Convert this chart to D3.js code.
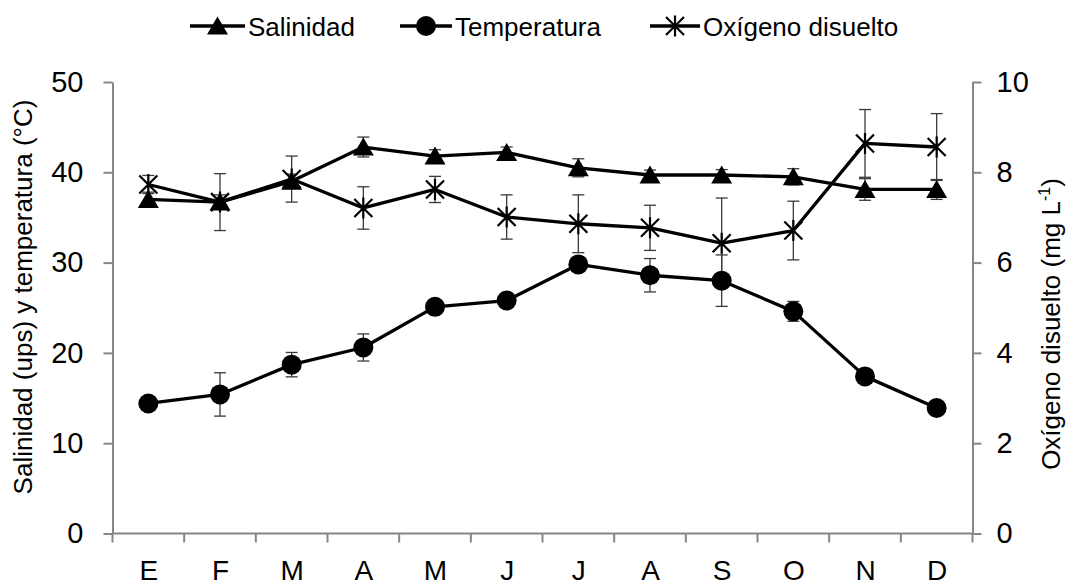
<!DOCTYPE html>
<html><head><meta charset="utf-8">
<script src="https://cdn.jsdelivr.net/npm/d3@7"></script>
<style>
html,body{margin:0;padding:0;background:#fff;}
text{font-family:"Liberation Sans",Arial,sans-serif;fill:#000;}
</style></head>
<body>
<svg id="chart" width="1078" height="586"></svg>
<script>
const months = ["E","F","M","A","M","J","J","A","S","O","N","D"];
const salinidad = [37.0, 36.7, 39.0, 42.8, 41.8, 42.2, 40.5, 39.7, 39.7, 39.5, 38.1, 38.1];
const salinidadErr = [0.8, 0.8, 0.8, 1.1, 0.7, 0.6, 1.0, 0.55, 0.6, 0.9, 1.2, 1.1];
const temperatura = [14.4, 15.4, 18.7, 20.6, 25.1, 25.8, 29.8, 28.6, 28.0, 24.6, 17.4, 13.9];
const temperaturaErr = [0.5, 2.4, 1.35, 1.5, 0.8, 0.8, 0.8, 1.85, 2.85, 1.1, 0.5, 0.5];
const oxigeno = [7.73, 7.34, 7.85, 7.21, 7.62, 7.01, 6.86, 6.77, 6.43, 6.71, 8.64, 8.56];
const oxigenoErr = [0.2, 0.63, 0.51, 0.47, 0.29, 0.49, 0.64, 0.50, 1.0, 0.65, 0.75, 0.74];
const leftTicks = [0, 10, 20, 30, 40, 50];
const rightTicks = [0, 2, 4, 6, 8, 10];
const legendLabels = ["Salinidad", "Temperatura", "Oxígeno disuelto"];

const svg = d3.select("#chart");
const L = 112.5, R = 972.5, T = 82, B = 533.5;
const idx = d3.range(months.length);
const xBand = d3.scaleBand().domain(idx).range([L, R]).paddingInner(0).paddingOuter(0);
const xc = i => xBand(i) + xBand.bandwidth() / 2;
const yL = d3.scaleLinear().domain([0, 50]).range([B, T]);
const yR = d3.scaleLinear().domain([0, 10]).range([B, T]);
const axisColor = "#868686";

// Left axis
const gL = svg.append("g").attr("transform", `translate(${L},0)`)
  .call(d3.axisLeft(yL).tickValues(leftTicks).tickSize(9).tickSizeOuter(0).tickPadding(20));
// Right axis
const gR = svg.append("g").attr("transform", `translate(${R},0)`)
  .call(d3.axisRight(yR).tickValues(rightTicks).tickSize(9).tickSizeOuter(0).tickPadding(15));
// Bottom axis (labels)
const gB = svg.append("g").attr("transform", `translate(0,${B})`)
  .call(d3.axisBottom(d3.scalePoint().domain(idx).range([xc(0), xc(11)])).tickSize(0).tickPadding(26.5).tickFormat(i => months[i]));
// Bottom tick marks at band boundaries
const bounds = idx.map(i => xBand(i)).concat([R]);
svg.append("g").selectAll("line").data(bounds).join("line")
  .attr("x1", d => d).attr("x2", d => d).attr("y1", B).attr("y2", B + 9)
  .attr("stroke", axisColor).attr("stroke-width", 2);
svg.append("line").attr("x1", L).attr("x2", R).attr("y1", B).attr("y2", B)
  .attr("stroke", axisColor).attr("stroke-width", 2);

[gL, gR, gB].forEach(g => {
  g.select(".domain").attr("stroke", axisColor).attr("stroke-width", 2);
  g.selectAll(".tick line").attr("stroke", axisColor).attr("stroke-width", 2);
  g.selectAll(".tick text").attr("font-size", 29).attr("font-family", '"Liberation Sans", Arial, sans-serif').attr("fill", "#000");
});
gB.selectAll(".tick text").attr("font-size", 28);
gB.select(".domain").remove();

// Axis titles
svg.append("text").attr("transform", "translate(32,297) rotate(-90)")
  .attr("text-anchor", "middle").attr("font-size", 26)
  .text("Salinidad (ups) y temperatura (°C)");
const rt = svg.append("text").attr("transform", "translate(1060,324) rotate(-90)")
  .attr("text-anchor", "middle").attr("font-size", 26);
rt.append("tspan").text("Oxígeno disuelto (mg L");
rt.append("tspan").attr("font-size", 16).attr("dy", -10).text("-1");
rt.append("tspan").attr("dy", 10).text(")");

// Marker paths
const triPath = "M0,-9.5L10.5,8.5L-10.5,8.5Z";
const starPath = "M-9,-9L9,9M-9,9L9,-9M0,-10.5L0,10.5";

const series = [
  {name: legendLabels[0], vals: salinidad, err: salinidadErr, y: yL, marker: "tri"},
  {name: legendLabels[1], vals: temperatura, err: temperaturaErr, y: yL, marker: "circ"},
  {name: legendLabels[2], vals: oxigeno, err: oxigenoErr, y: yR, marker: "star"}
];

function drawMarker(g, type) {
  if (type === "tri") g.append("path").attr("d", triPath).attr("fill", "#000");
  else if (type === "circ") g.append("circle").attr("r", 10).attr("fill", "#000");
  else g.append("path").attr("d", starPath).attr("fill", "none").attr("stroke", "#000").attr("stroke-width", 2.2);
}

// Error bars
series.forEach(s => {
  const g = svg.append("g").attr("stroke", "#3a3a3a").attr("stroke-width", 1.3);
  idx.forEach(i => {
    const x = xc(i), y1 = s.y(s.vals[i] + s.err[i]), y2 = s.y(s.vals[i] - s.err[i]);
    g.append("line").attr("x1", x).attr("x2", x).attr("y1", y1).attr("y2", y2);
    g.append("line").attr("x1", x - 6).attr("x2", x + 6).attr("y1", y1).attr("y2", y1);
    g.append("line").attr("x1", x - 6).attr("x2", x + 6).attr("y1", y2).attr("y2", y2);
  });
});

// Lines and markers
series.forEach(s => {
  const line = d3.line().x((d, i) => xc(i)).y(d => s.y(d));
  svg.append("path").datum(s.vals).attr("d", line)
    .attr("fill", "none").attr("stroke", "#000").attr("stroke-width", 3.3).attr("stroke-linejoin", "round");
  idx.forEach(i => {
    const g = svg.append("g").attr("transform", `translate(${xc(i)},${s.y(s.vals[i])})`);
    drawMarker(g, s.marker);
  });
});

// Legend
const legendItems = [
  {x1: 190, x2: 245, tx: 248},
  {x1: 400, x2: 452, tx: 455},
  {x1: 650, x2: 700, tx: 703}
];
series.forEach((s, k) => {
  const it = legendItems[k];
  const ly = 26;
  svg.append("line").attr("x1", it.x1).attr("x2", it.x2).attr("y1", ly).attr("y2", ly)
    .attr("stroke", "#000").attr("stroke-width", 3.3);
  drawMarker(svg.append("g").attr("transform", `translate(${(it.x1 + it.x2) / 2},${ly})`), s.marker);
  svg.append("text").attr("x", it.tx).attr("y", ly + 9.5).attr("font-size", 26).text(s.name);
});
</script>
</body></html>
